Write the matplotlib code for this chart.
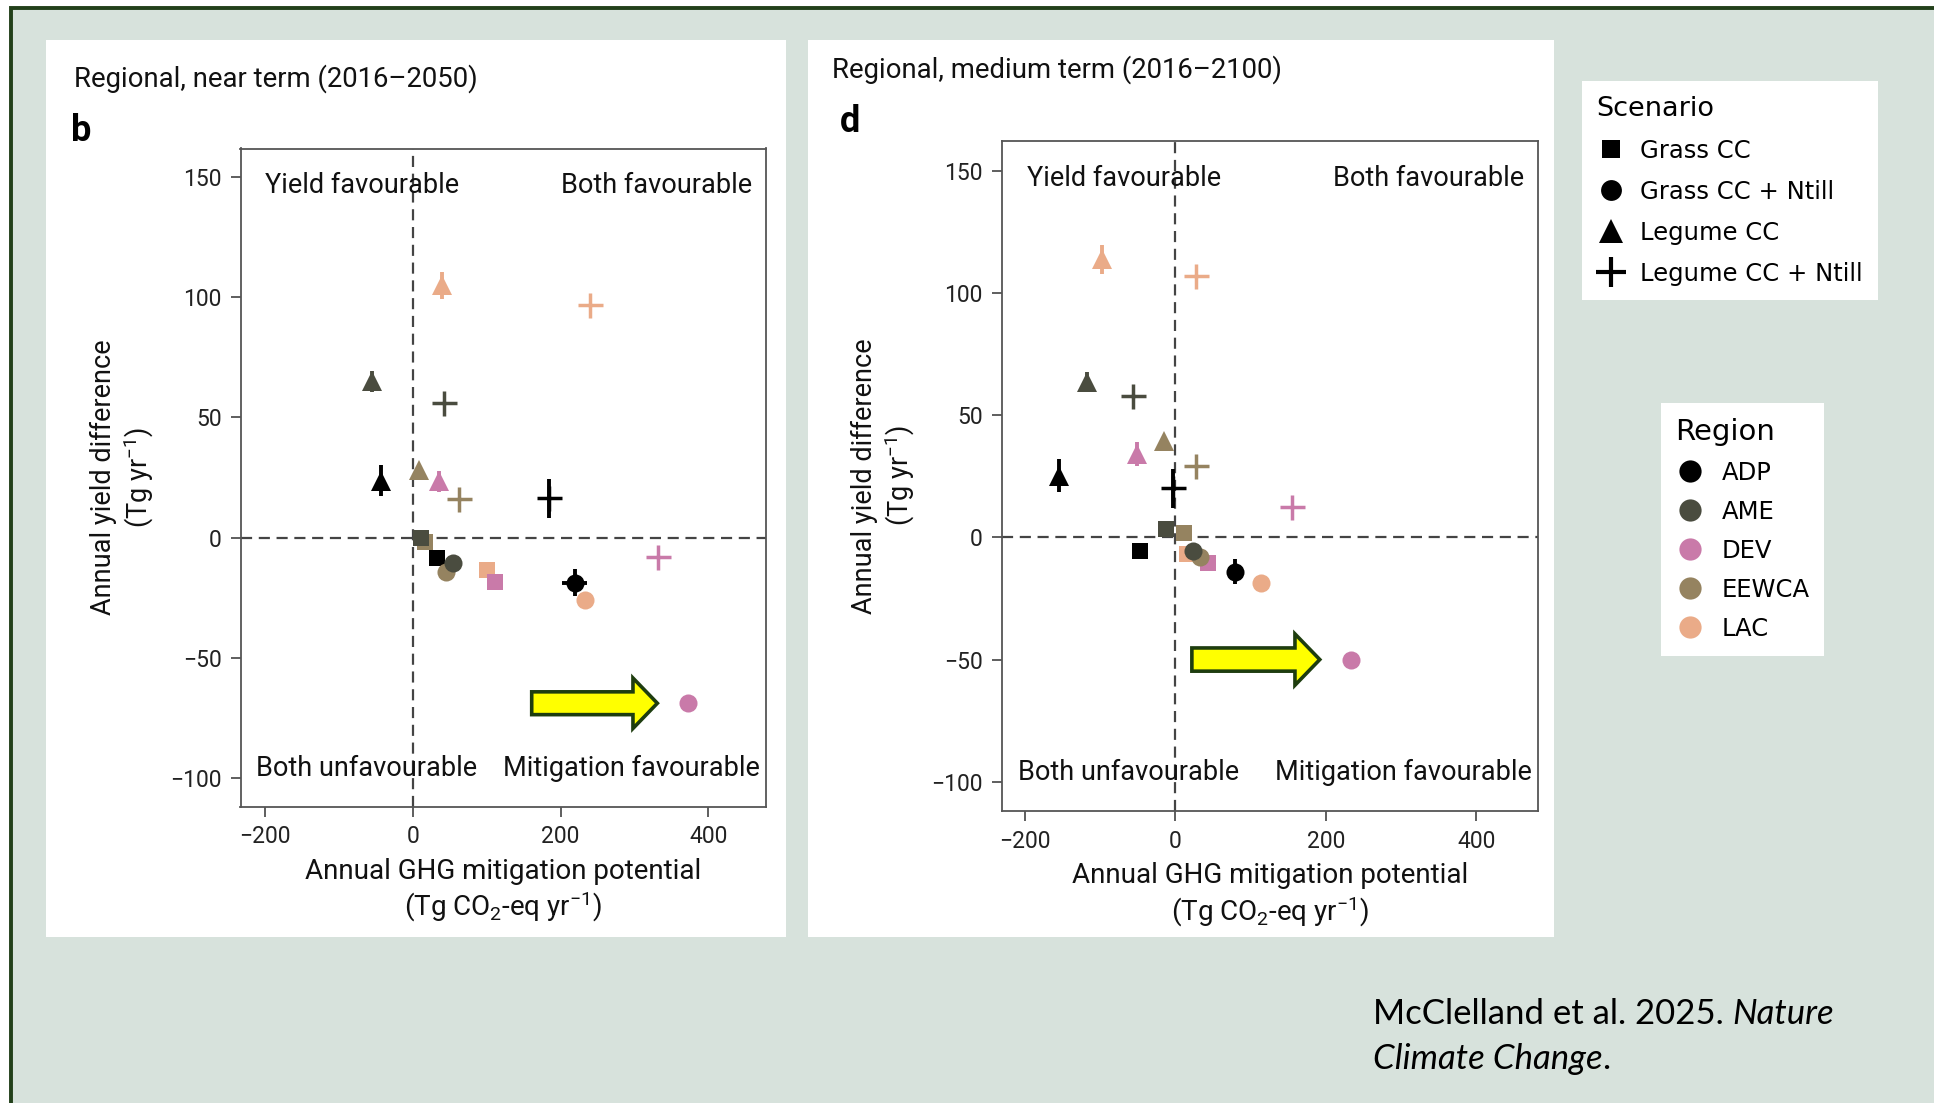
import matplotlib
matplotlib.use("Agg")
import matplotlib.pyplot as plt
from matplotlib.lines import Line2D
from matplotlib.patches import Rectangle, FancyArrow

plt.rcParams["font.family"] = ["Roboto", "DejaVu Sans"]
plt.rcParams["mathtext.default"] = "regular"

regions = ["ADP", "AME", "DEV", "EEWCA", "LAC"]
region_colors = ["#000000", "#4a4c3f", "#c97aa9", "#958360", "#eaab88"]

scenarios = ["Grass CC", "Grass CC + Ntill", "Legume CC", "Legume CC + Ntill"]
scenario_markers = ["s", "o", "^", "+"]
scenario_ms = [12, 13, 14, 18]

# near term 2016-2050, one value per region (ADP, AME, DEV, EEWCA, LAC)
near_grass_x = [33, 11, 112, 17, 101]
near_grass_y = [-8.4, -0.3, -18.4, -2, -13.6]
near_grass_ntill_x = [219, 54, 373, 45, 233]
near_grass_ntill_y = [-18.8, -10.6, -69, -14.2, -26]
near_legume_x = [-43, -55, 35, 8, 40]
near_legume_y = [23.7, 65, 23.4, 28, 105]
near_legume_ntill_x = [184, 42, 332, 62, 240]
near_legume_ntill_y = [16.3, 56, -8, 16, 97]

near_grass_ntill_xerr = [17, 0, 0, 0, 0]
near_grass_ntill_yerr = [5.5, 0, 0, 0, 0]
near_legume_yerr = [6.4, 4.5, 4.5, 0, 5.5]
near_legume_ntill_yerr = [8, 0, 0, 0, 0]

# medium term 2016-2100
med_grass_x = [-47, -12, 44, 11, 16]
med_grass_y = [-5.5, 3.4, -10.3, 2, -6.8]
med_grass_ntill_x = [79, 23, 234, 33, 114]
med_grass_ntill_y = [-14, -5.7, -50, -8, -18.5]
med_legume_x = [-154, -117, -51, -15, -98]
med_legume_y = [25.3, 63.6, 34.2, 39.4, 113.8]
med_legume_ntill_x = [-3, -56, 155, 28, 27]
med_legume_ntill_y = [20.2, 58, 12.3, 29.3, 107]

med_grass_ntill_xerr = [0, 0, 0, 0, 0]
med_grass_ntill_yerr = [5, 0, 0, 0, 0]
med_legume_yerr = [6.8, 4, 5, 0, 6]
med_legume_ntill_yerr = [8, 0, 0, 0, 0]

zero = [0, 0, 0, 0, 0]

W, H = 1934, 1103
bg_color = "#d7e2dc"
border_color = "#22401a"

fig = plt.figure(figsize=(W / 100, H / 100), dpi=100, facecolor="white")

# background canvas in pixel units
bg = fig.add_axes([0, 0, 1, 1], zorder=-10)
bg.set_xlim(0, W)
bg.set_ylim(H, 0)
bg.axis("off")
bg.add_patch(Rectangle((11, 7.5), W, H, facecolor=bg_color, edgecolor=border_color, lw=2.8))
bg.add_patch(Rectangle((46, 40), 740, 897, facecolor="white", edgecolor="none"))
bg.add_patch(Rectangle((808, 40), 746, 897, facecolor="white", edgecolor="none"))

bg.text(74, 79, "Regional, near term (2016\u20132050)", fontsize=19.8, va="center", color="#111")
bg.text(71, 131, "b", fontsize=26, fontweight="bold", va="center", color="black")
bg.text(832, 70, "Regional, medium term (2016\u20132100)", fontsize=19.8, va="center", color="#111")
bg.text(840, 122, "d", fontsize=26, fontweight="bold", va="center", color="black")

# citation, italic journal name
cite_font = ["Lato", "DejaVu Sans"]
t1 = bg.text(1373, 1014, "McClelland et al. 2025. ", family=cite_font, fontsize=25, va="center")
bg.annotate("Nature", xy=(1, 0), xycoords=t1, va="bottom", family=cite_font, fontsize=25, style="italic")
t2 = bg.text(1373, 1059, "Climate Change", family=cite_font, fontsize=25, va="center", style="italic")
bg.annotate(".", xy=(1, 0), xycoords=t2, va="bottom", family=cite_font, fontsize=25)


def draw_panel(ax, xs, ys, xerrs, yerrs, xlim, ylim):
    ax.axhline(0, color="#444", lw=1.6, ls=(0, (5, 3)), zorder=1)
    ax.axvline(0, color="#444", lw=1.6, ls=(0, (5, 3)), zorder=1)
    for s in range(len(scenarios)):
        for r in reversed(range(len(regions))):
            ax.errorbar(xs[s][r], ys[s][r],
                        xerr=xerrs[s][r] if xerrs[s][r] else None,
                        yerr=yerrs[s][r] if yerrs[s][r] else None,
                        fmt=scenario_markers[s], color=region_colors[r],
                        ms=scenario_ms[s], mew=2.5 if scenario_markers[s] == "+" else 0,
                        elinewidth=2.8, capsize=0, zorder=3)
    ax.set_xlim(*xlim)
    ax.set_ylim(*ylim)
    ax.set_xticks([-200, 0, 200, 400])
    ax.set_yticks([-100, -50, 0, 50, 100, 150])
    ax.tick_params(direction="out", length=7.5, width=1.1, color="#333",
                   labelsize=16.5, pad=6, labelcolor="#222")
    for sp in ax.spines.values():
        sp.set_color("#555")
        sp.set_linewidth(1.3)
    ax.set_xlabel("Annual GHG mitigation potential\n(Tg CO$_2$-eq yr$^{-1}$)",
                  fontsize=20, labelpad=7, color="#111")
    ax.set_ylabel("Annual yield difference\n(Tg yr$^{-1}$)", fontsize=19.5,
                  labelpad=10, color="#111")
    qkw = dict(transform=ax.transAxes, fontsize=19.5, va="center", color="#111")
    ax.text(0.047, 0.944, "Yield favourable", ha="left", **qkw)
    ax.text(0.974, 0.944, "Both favourable", ha="right", **qkw)
    ax.text(0.03, 0.058, "Both unfavourable", ha="left", **qkw)
    ax.text(0.988, 0.058, "Mitigation favourable", ha="right", **qkw)


ax1 = fig.add_axes([240.5 / W, 1 - 806.5 / H, 525.5 / W, 658 / H])
draw_panel(ax1,
           [near_grass_x, near_grass_ntill_x, near_legume_x, near_legume_ntill_x],
           [near_grass_y, near_grass_ntill_y, near_legume_y, near_legume_ntill_y],
           [zero, near_grass_ntill_xerr, zero, zero],
           [zero, near_grass_ntill_yerr, near_legume_yerr, near_legume_ntill_yerr],
           (-233, 478), (-112, 162))

ax2 = fig.add_axes([1001.5 / W, 1 - 811 / H, 536.5 / W, 670.5 / H])
draw_panel(ax2,
           [med_grass_x, med_grass_ntill_x, med_legume_x, med_legume_ntill_x],
           [med_grass_y, med_grass_ntill_y, med_legume_y, med_legume_ntill_y],
           [zero, med_grass_ntill_xerr, zero, zero],
           [zero, med_grass_ntill_yerr, med_legume_yerr, med_legume_ntill_yerr],
           (-231, 482), (-112, 162.5))

# yellow arrows pointing at the DEV grass CC + Ntill point
for ax, px, py in [(ax1, near_grass_ntill_x[2], near_grass_ntill_y[2]),
                   (ax2, med_grass_ntill_x[2], med_grass_ntill_y[2])]:
    tip = px - 42
    ax.add_patch(FancyArrow(tip - 170, py, 170, 0, width=9.5, head_width=21,
                            head_length=33, length_includes_head=True,
                            facecolor="#ffff00", edgecolor="#1e3d0f", lw=2.6,
                            joinstyle="miter", zorder=4))

leg_family = ["DejaVu Sans"]
leg_font = {"family": leg_family, "size": 17.5}
sc_handles = [
    Line2D([], [], ls="", marker="s", color="black", ms=13, mew=0),
    Line2D([], [], ls="", marker="o", color="black", ms=15, mew=0),
    Line2D([], [], ls="", marker="^", color="black", ms=17, mew=0),
    Line2D([], [], ls="", marker="+", color="black", ms=22, mew=3),
]
leg1 = fig.legend(sc_handles, scenarios, loc="upper left",
                  bbox_to_anchor=(1582 / W, 1 - 81 / H), borderaxespad=0,
                  title="Scenario", alignment="left", prop=leg_font,
                  title_fontproperties={"family": leg_family, "size": 19.5},
                  frameon=True, fancybox=False, facecolor="white", edgecolor="none",
                  framealpha=1, borderpad=0.6, labelspacing=0.7,
                  handlelength=1.2, handletextpad=0.6)

rg_handles = [Line2D([], [], ls="", marker="o", color=c, ms=16, mew=0) for c in region_colors]
leg2 = fig.legend(rg_handles, regions, loc="upper left",
                  bbox_to_anchor=(1661 / W, 1 - 403 / H), borderaxespad=0,
                  title="Region", alignment="left", prop=leg_font,
                  title_fontproperties={"family": leg_family, "size": 21},
                  frameon=True, fancybox=False, facecolor="white", edgecolor="none",
                  framealpha=1, borderpad=0.6, labelspacing=0.62,
                  handlelength=1.2, handletextpad=0.7)

fig.savefig("out.png", dpi=100, facecolor=fig.get_facecolor())
